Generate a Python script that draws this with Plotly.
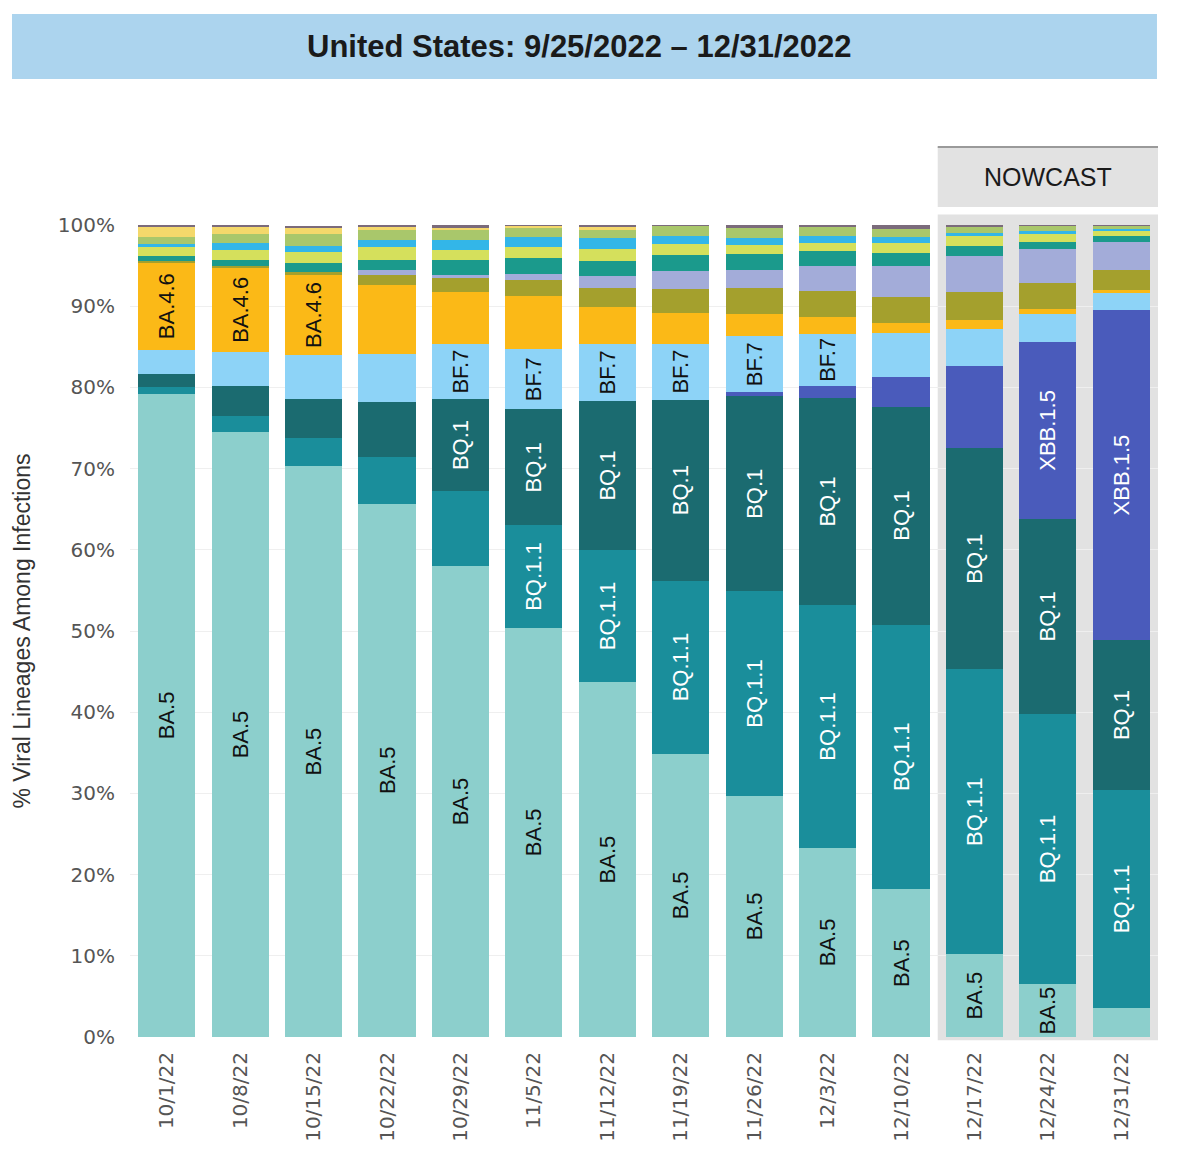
import plotly.graph_objects as go

# ---------------- data ----------------
weeks = ["10/1/22", "10/8/22", "10/15/22", "10/22/22", "10/29/22", "11/5/22", "11/12/22",
         "11/19/22", "11/26/22", "12/3/22", "12/10/22", "12/17/22", "12/24/22", "12/31/22"]

ba5     = [79.2, 74.5, 70.3, 65.7, 58.0, 50.4, 43.7, 34.9, 29.7, 23.3, 18.2, 10.2, 6.5, 3.6]
bq11    = [0.8, 2.0, 3.5, 5.7, 9.2, 12.6, 16.3, 21.3, 25.2, 29.9, 32.6, 35.1, 33.3, 26.8]
bq1     = [1.6, 3.7, 4.8, 6.8, 11.4, 14.3, 18.3, 22.3, 24.0, 25.5, 26.8, 27.2, 24.0, 18.5]
xbb15   = [0, 0, 0, 0, 0, 0, 0, 0, 0.5, 1.5, 3.7, 10.1, 21.8, 40.6]
bf7     = [3.0, 4.2, 5.4, 5.95, 6.7, 7.4, 7.1, 6.9, 6.9, 6.4, 5.4, 4.6, 3.5, 2.1]
ba46    = [10.8, 10.3, 9.85, 8.5, 6.5, 6.5, 4.5, 3.8, 2.75, 2.1, 1.2, 1.1, 0.6, 0.35]
bn1     = [0.2, 0.3, 0.4, 1.15, 1.7, 2.0, 2.4, 2.9, 3.15, 3.15, 3.2, 3.5, 3.1, 2.55]
xbb     = [0, 0, 0, 0.7, 0.37, 0.8, 1.45, 2.25, 2.2, 3.15, 3.9, 4.4, 4.3, 3.4]
ba275   = [0.6, 0.75, 1.07, 1.23, 1.76, 1.97, 1.76, 2.0, 2.0, 1.76, 1.5, 1.23, 0.86, 0.7]
ba526   = [1.15, 1.2, 1.3, 1.5, 1.3, 1.35, 1.5, 1.3, 1.1, 1.0, 1.3, 1.2, 0.9, 0.65]
bf11    = [0.3, 0.8, 0.74, 0.95, 1.23, 1.23, 1.35, 0.95, 0.95, 0.9, 0.74, 0.4, 0.4, 0.25]
ba2752  = [0.9, 1.2, 1.5, 1.2, 1.23, 1.15, 1.0, 1.23, 1.23, 1.07, 1.0, 0.8, 0.6, 0.4]
ba4     = [1.15, 0.8, 0.8, 0.4, 0.3, 0.15, 0.4, 0, 0, 0, 0, 0, 0, 0]
other   = [0.3, 0.25, 0.25, 0.25, 0.25, 0.25, 0.25, 0.3, 0.3, 0.3, 0.45, 0.2, 0.25, 0.15]

# which weeks carry an in-bar label for each lineage (indices into weeks)
labels_ba5 = list(range(0, 13))
labels_bq11 = list(range(5, 14))
labels_bq1 = list(range(4, 14))
labels_xbb15 = [12, 13]
labels_bf7 = list(range(4, 10))
labels_ba46 = [0, 1, 2]

y_ticks = list(range(0, 101, 10))
y_tick_text = [f"{v}%" for v in y_ticks]

title_text = "United States: 9/25/2022 – 12/31/2022"
nowcast_text = "NOWCAST"
y_title = "% Viral Lineages Among Infections"

# ---------------- styling ----------------
series = [
    ("BA.5", ba5, "#8ccfcc", labels_ba5, "#111111"),
    ("BQ.1.1", bq11, "#1a8e9b", labels_bq11, "#ffffff"),
    ("BQ.1", bq1, "#1b6b70", labels_bq1, "#ffffff"),
    ("XBB.1.5", xbb15, "#4a5bbb", labels_xbb15, "#ffffff"),
    ("BF.7", bf7, "#8dd3f7", labels_bf7, "#111111"),
    ("BA.4.6", ba46, "#fbb917", labels_ba46, "#111111"),
    ("BN.1", bn1, "#a4a02d", [], "#111111"),
    ("XBB", xbb, "#a3acd9", [], "#111111"),
    ("BA.2.75", ba275, "#1b9a8c", [], "#111111"),
    ("BA.5.2.6", ba526, "#d5e05c", [], "#111111"),
    ("BF.11", bf11, "#33b6e8", [], "#111111"),
    ("BA.2.75.2", ba2752, "#a9c76b", [], "#111111"),
    ("BA.4", ba4, "#f4d86b", [], "#111111"),
    ("Other", other, "#7b6b7b", [], "#111111"),
]

fig = go.Figure()
for name, vals, color, lab_idx, tcol in series:
    text = [name if i in lab_idx else "" for i in range(len(weeks))]
    fig.add_trace(go.Bar(
        x=weeks, y=vals, name=name,
        marker=dict(color=color, line=dict(width=0)),
        text=text, textposition="inside", insidetextanchor="middle",
        textangle=-90,
        textfont=dict(family="Arial", size=22, color=tcol),
        hovertemplate=name + ": %{y:.1f}%<extra>%{x}</extra>",
    ))

n = len(weeks)
nowcast_start = 11  # index of first nowcast week
px0 = nowcast_start / n

shapes = [
    # title banner
    dict(type="rect", xref="paper", yref="paper", x0=-0.1148, x1=0.999, y0=1.1798, y1=1.2599,
         fillcolor="#acd4ee", line=dict(width=0), layer="below"),
    # nowcast shaded area
    dict(type="rect", xref="paper", yref="paper", x0=px0, x1=1.0, y0=-0.004, y1=1.013,
         fillcolor="#e2e2e2", line=dict(width=0), layer="between"),
    # nowcast header box
    dict(type="rect", xref="paper", yref="paper", x0=px0, x1=1.0, y0=1.0222, y1=1.096,
         fillcolor="#e2e2e2", line=dict(width=0), layer="below"),
    dict(type="line", xref="paper", yref="paper", x0=px0, x1=1.0, y0=1.096, y1=1.096,
         line=dict(color="#9a9a9a", width=2)),
]

annotations = [
    dict(text="<b>" + title_text + "</b>", xref="paper", yref="paper", x=0.437, y=1.2199,
         showarrow=False, font=dict(family="Arial", size=31, color="#1a1a1a"),
         xanchor="center", yanchor="middle"),
    dict(text=nowcast_text, xref="paper", yref="paper", x=(px0 + 1.0) / 2, y=1.059,
         showarrow=False, font=dict(family="Arial", size=25, color="#1a1a1a"),
         xanchor="center", yanchor="middle"),
]

fig.update_layout(
    width=1180, height=1168,
    margin=dict(l=122, r=30, t=217, b=139, pad=0),
    barmode="stack", bargap=0.22,
    showlegend=False,
    paper_bgcolor="#ffffff", plot_bgcolor="rgba(0,0,0,0)",
    shapes=shapes, annotations=annotations,
    uniformtext=dict(mode="show", minsize=22),
    xaxis=dict(
        type="category", range=[-0.5, n - 0.5], tickangle=-90,
        tickfont=dict(family="DejaVu Sans", size=20, color="#555555"),
        showgrid=False, zeroline=False, showline=False, ticks="", ticklabelstandoff=10,
    ),
    yaxis=dict(
        range=[0, 100], tickmode="array", tickvals=y_ticks, ticktext=y_tick_text,
        tickfont=dict(family="DejaVu Sans", size=20, color="#555555"),
        showgrid=True, gridcolor="#efefef", gridwidth=1, zeroline=False, showline=False,
        ticks="", ticklabelstandoff=14,
        title=dict(text=y_title, font=dict(family="Arial", size=23, color="#333333"), standoff=20),
    ),
)

fig.write_html("out.html")
